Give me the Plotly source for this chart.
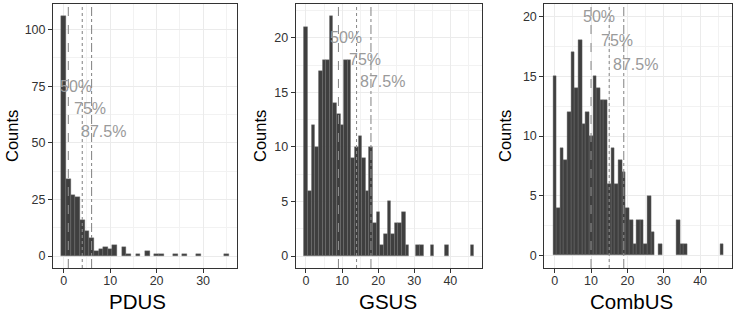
import plotly.graph_objects as go

# ---- data ----
pdus_values = [0, 1, 2, 3, 4, 5, 6, 7, 8, 9, 10, 11, 13, 14, 16, 18, 20, 21, 24, 26, 29, 35]
pdus_counts = [106, 34, 27, 26, 16, 11, 8, 2, 3, 4, 3, 5, 4, 1, 1, 2, 1, 1, 1, 1, 1, 1]

gsus_values = list(range(0, 29)) + [31, 32, 35, 39, 46]
gsus_counts = [21, 6, 12, 10, 17, 18, 18, 22, 14, 13, 12, 18, 18, 9, 10, 11, 9, 6, 10,
               3, 4, 1, 2, 5, 2, 3, 3, 4, 1, 1, 1, 1, 1, 1]

comb_values = list(range(0, 28)) + [29, 34, 35, 36, 46]
comb_counts = [15, 4, 9, 8, 12, 17, 14, 18, 11, 12, 10, 15, 14, 13, 13, 6, 9, 6, 8, 7,
               4, 3, 1, 3, 3, 1, 5, 2, 1, 3, 1, 1, 1]

quantile_labels = ["50%", "75%", "87.5%"]
pdus_quantiles = [1, 4, 6]
gsus_quantiles = [9, 14, 18]
comb_quantiles = [10, 15, 19]

pdus_label_y = [75, 65, 55]
gsus_label_y = [20, 18, 16]
comb_label_y = [20, 18, 16]

titles = ["PDUS", "GSUS", "CombUS"]

# ---- figure ----
FONT = "Liberation Sans, Arial, sans-serif"
BAR_FILL = "#3f3f3f"
GRID = "#ebebeb"
LINE_GREY = "#8c8c8c"
TEXT_GREY = "#9a9a9a"

panels = [
    dict(values=pdus_values, counts=pdus_counts, q=pdus_quantiles, ly=pdus_label_y,
         xdom=[53 / 740, 237 / 740], xr=[-2.3, 37.3], yr=[-5.3, 111.3], ydt=25, xdt=10,
         ytitle_x=12, xtitle_x=137),
    dict(values=gsus_values, counts=gsus_counts, q=gsus_quantiles, ly=gsus_label_y,
         xdom=[295.7 / 740, 482.3 / 740], xr=[-2.85, 48.85], yr=[-1.1, 23.1], ydt=5, xdt=10,
         ytitle_x=260, xtitle_x=388),
    dict(values=comb_values, counts=comb_counts, q=comb_quantiles, ly=comb_label_y,
         xdom=[544.3 / 740, 732.3 / 740], xr=[-2.85, 48.85], yr=[-1.05, 21.05], ydt=5, xdt=10,
         ytitle_x=505, xtitle_x=631),
]

ydom = [1 - 268 / 316, 1 - 4 / 316]
dashes = ["dash", "dot", "dashdot"]
label_shift = [8, 8, 12]

fig = go.Figure()
layout = dict(
    width=740, height=316,
    margin=dict(l=0, r=0, t=0, b=0),
    paper_bgcolor="white", plot_bgcolor="white",
    showlegend=False, bargap=0,
    font=dict(family=FONT, color="#333333"),
)
shapes = []
annotations = []

for i, p in enumerate(panels):
    n = i + 1
    xa = "x" if n == 1 else f"x{n}"
    ya = "y" if n == 1 else f"y{n}"
    fig.add_trace(go.Bar(
        x=p["values"], y=p["counts"], width=1,
        marker=dict(color=BAR_FILL, line=dict(color="#6e6e6e", width=0.4)),
        xaxis=xa, yaxis=ya, hoverinfo="x+y",
    ))
    axis_common = dict(
        showgrid=True, gridcolor=GRID, gridwidth=1.1,
        zeroline=False, showline=True, mirror=True, linecolor="#333333", linewidth=1,
        ticks="outside", ticklen=4, tickcolor="#333333", tickwidth=1,
        tickfont=dict(size=12.5, color="#333333", family=FONT),
    )
    layout["xaxis" if n == 1 else f"xaxis{n}"] = dict(
        axis_common, domain=p["xdom"], range=p["xr"], dtick=p["xdt"], tick0=0,
        anchor=ya, ticklabelstandoff=-3,
        minor=dict(dtick=p["xdt"] / 2, tick0=0, showgrid=True, gridcolor="#f2f2f2", gridwidth=0.6),
    )
    layout["yaxis" if n == 1 else f"yaxis{n}"] = dict(
        axis_common, domain=ydom, range=p["yr"], dtick=p["ydt"], tick0=0,
        anchor=xa,
        minor=dict(dtick=p["ydt"] / 2, tick0=0, showgrid=True, gridcolor="#f2f2f2", gridwidth=0.6),
    )
    for k, qv in enumerate(p["q"]):
        shapes.append(dict(
            type="line", xref=xa, yref=f"{ya} domain",
            x0=qv, x1=qv, y0=0, y1=1,
            line=dict(color=LINE_GREY, width=1.1, dash=dashes[k]),
        ))
        annotations.append(dict(
            x=qv, y=p["ly"][k], xref=xa, yref=ya, text=quantile_labels[k],
            showarrow=False, xanchor="center", yanchor="middle", xshift=label_shift[k],
            font=dict(size=16, color=TEXT_GREY, family=FONT),
        ))
    annotations.append(dict(
        x=p["ytitle_x"] / 740, y=(ydom[0] + ydom[1]) / 2, xref="paper", yref="paper",
        text="Counts", textangle=-90, showarrow=False, xanchor="center", yanchor="middle",
        font=dict(size=16.5, color="black", family=FONT),
    ))
    annotations.append(dict(
        x=p["xtitle_x"] / 740, y=1 - 301 / 316, xref="paper", yref="paper",
        text=titles[i], showarrow=False, xanchor="center", yanchor="middle",
        font=dict(size=20.5, color="black", family=FONT),
    ))

layout["shapes"] = shapes
layout["annotations"] = annotations
fig.update_layout(**layout)

fig.write_html("out.html", config={"displayModeBar": False},
               post_script="document.body.style.margin='0';document.body.style.padding='0';")
